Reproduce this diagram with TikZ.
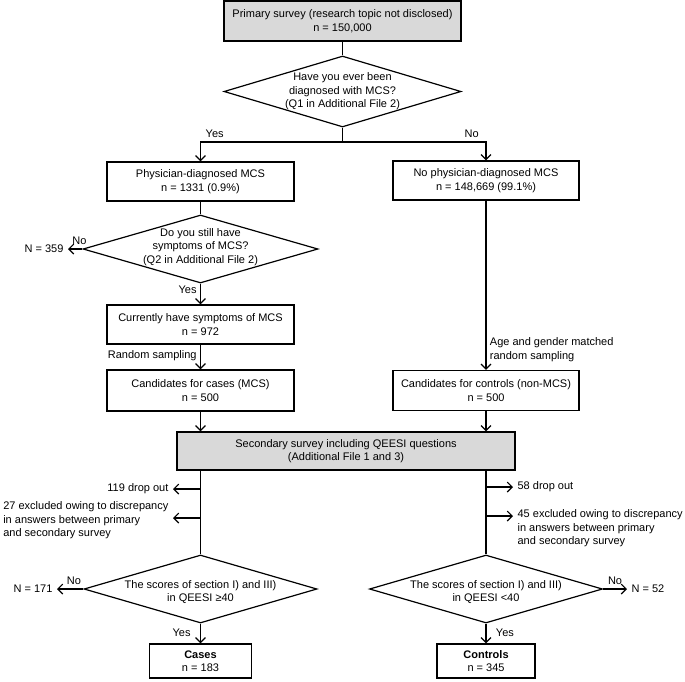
\documentclass[tikz,border=0pt]{standalone}
\usepackage{fontspec}
\setmainfont{Liberation Sans}
\usetikzlibrary{arrows.meta, shapes.geometric}

\begin{document}
\begin{tikzpicture}[x=1pt,y=-1pt,>={Straight Barb[angle=90:7pt]},line width=1.2pt,
  font=\fontsize{11}{13.5}\selectfont,
  main box/.style={rectangle,draw,align=center,inner sep=0pt},
  grey box/.style={main box,fill=black!15},
  decision/.style={diamond,draw,inner sep=0pt},
  note/.style={align=left,inner ysep=0pt,inner xsep=4pt}]
  \useasboundingbox (0,0) rectangle (685,681);

  % first question
  \node[grey box, minimum width=237, minimum height=40] (primary) at (342.5,21)
    {Primary survey (research topic not disclosed)\\n = 150,000};
  \node[decision, minimum width=237, minimum height=71] (q1) at (342.5,91.5) {};
  \node[align=center] (q1text) at (q1) {Have you ever been\\diagnosed with MCS?\\(Q1 in Additional File 2)};
  \coordinate (split) at (342.5,142);
  \node[main box, minimum width=187, minimum height=39] (phys) at (200.5,181.5)
    {Physician-diagnosed MCS\\n = 1331 (0.9\%)};
  \node[main box, minimum width=186, minimum height=39] (nophys) at (486,180.5)
    {No physician-diagnosed MCS\\n = 148,669 (99.1\%)};
  \draw (primary) -- (q1);
  \draw (q1) -- (split);
  \draw[->] (split) -| node[pos=0.45,above]{Yes} (phys);
  \draw[->] (split) -| node[pos=0.45,above]{No} (nophys);

  % second question and sampling
  \node[decision, minimum width=235, minimum height=68] (q2) at (200.5,249) {};
  \node[align=center] (q2text) at (200.5,247) {Do you still have\\symptoms of MCS?\\(Q2 in Additional File 2)};
  \node[note, anchor=east] (n359) at (68,249) {N = 359};
  \node[main box, minimum width=187, minimum height=39] (current) at (200.5,324.5)
    {Currently have symptoms of MCS\\n = 972};
  \node[main box, minimum width=187, minimum height=41] (casecand) at (200.5,390.5)
    {Candidates for cases (MCS)\\n = 500};
  \node[main box, minimum width=186, minimum height=40] (contcand) at (486,390.5)
    {Candidates for controls (non-MCS)\\n = 500};
  \draw (phys) -- (q2);
  \path[->] (q2) edge node[pos=0.2,above]{No} (n359)
    (q2) edge node[pos=0.3,left]{Yes} (current)
    (current) edge node[pos=0.45,left]{Random sampling} (casecand)
    (nophys) edge node[pos=0.88,right,align=left]{Age and gender matched\\random sampling} (contcand);

  % secondary survey
  \node[grey box, minimum width=338, minimum height=38] (second) at (346,451)
    {Secondary survey including QEESI questions\\(Additional File 1 and 3)};
  \path[->] (casecand) edge (casecand |- second.north)
    (contcand) edge (contcand |- second.north);

  % exclusions
  \node[decision, minimum width=233, minimum height=68] (q3) at (200.5,589) {};
  \node[align=center] (q3text) at (200.5,592) {The scores of section I) and III)\\in QEESI ≥40};
  \node[decision, minimum width=233, minimum height=68] (q4) at (486,589) {};
  \node[align=center] (q4text) at (486,592) {The scores of section I) and III)\\in QEESI <40};
  \draw (casecand |- second.south) -- (q3);
  \draw (contcand |- second.south) -- (q4);
  \coordinate (drop1) at (200.5,489);
  \coordinate (excl1) at (200.5,518);
  \coordinate (drop2) at (486,487);
  \coordinate (excl2) at (486,516);
  \node[note, anchor=east] (drop119) at (173,489) {119 drop out};
  \node[note, anchor=north east] (excl27) at (173,501)
    {27 excluded owing to discrepancy\\in answers between primary\\and secondary survey};
  \node[note, anchor=west] (drop58) at (513,487) {58 drop out};
  \node[note, anchor=north west] (excl45) at (513,509)
    {45 excluded owing to discrepancy\\in answers between primary\\and secondary survey};
  \path[->] (drop1) edge (drop119)
    (excl1) edge (excl1 -| excl27.east)
    (drop2) edge (drop58)
    (excl2) edge (excl2 -| excl45.west);

  % outcomes
  \node[note, anchor=east] (n171) at (57,589) {N = 171};
  \node[note, anchor=west] (n52) at (627,589) {N = 52};
  \node[main box, minimum width=102, minimum height=34] (cases) at (200.5,661)
    {\textbf{Cases}\\n = 183};
  \node[main box, minimum width=98, minimum height=34] (controls) at (486,661)
    {\textbf{Controls}\\n = 345};
  \path[->] (q3) edge node[pos=0.36,above]{No} (n171)
    (q3) edge node[pos=0.45,left=6pt]{Yes} (cases)
    (q4) edge node[pos=0.5,above]{No} (n52)
    (q4) edge node[pos=0.45,right=6pt]{Yes} (controls);
\end{tikzpicture}
\end{document}
